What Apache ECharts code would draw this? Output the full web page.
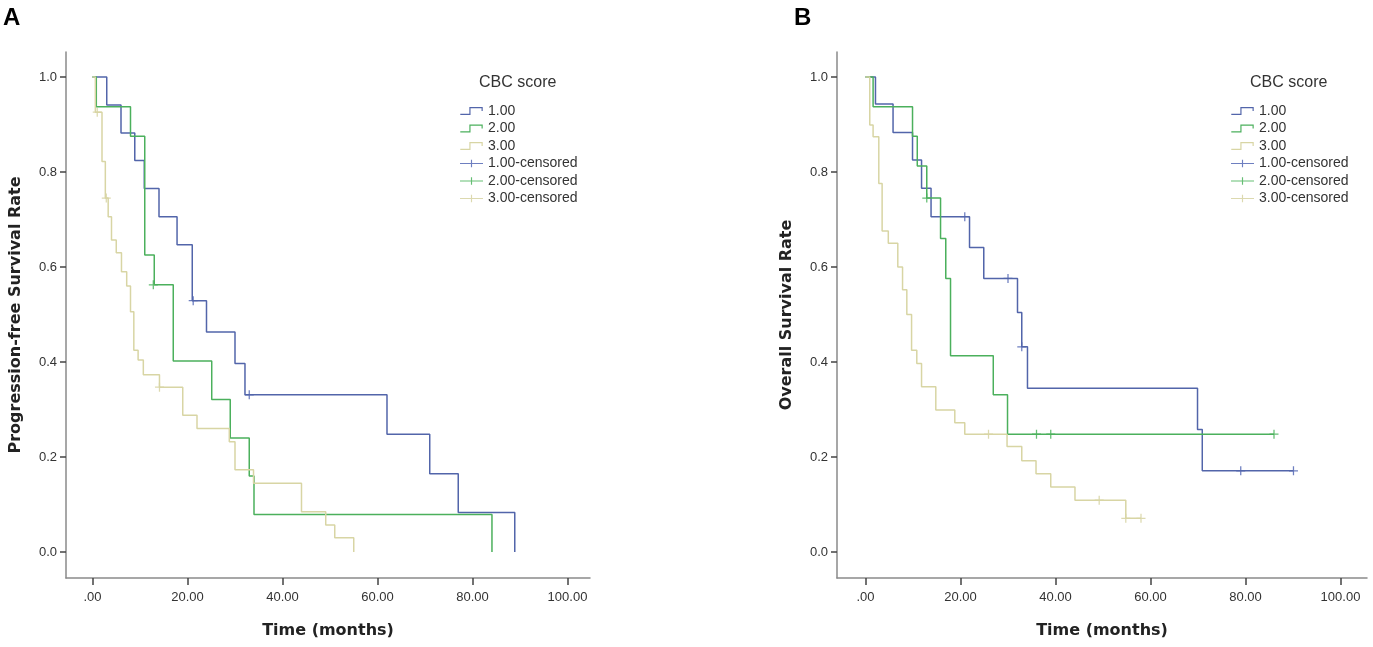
<!DOCTYPE html>
<html>
<head>
    <meta charset="UTF-8">
    <script src="https://cdn.jsdelivr.net/npm/echarts@6/dist/echarts.min.js"></script>
    <title>CBC score survival</title>
</head>
<body style="margin:0;background:#fff;">
<div id="chart" style="width:1373px;height:647px;"></div>
<script>
    // tick positions / labels
    var xTicks = [0, 20, 40, 60, 80, 100];
    var yTicks = [0, 0.2, 0.4, 0.6, 0.8, 1.0];
    var groupNames = ['1.00', '2.00', '3.00'];
    var censorNames = ['1.00-censored', '2.00-censored', '3.00-censored'];

    // A: progression-free survival  [months, rate]
    var pfsBlue = [[0, 1], [3.0, 0.941], [6.0, 0.882], [8.9, 0.824], [10.9, 0.765], [14.0, 0.706], [17.8, 0.647],
        [21.0, 0.529], [24.0, 0.463], [30.0, 0.397], [32.1, 0.331], [62.0, 0.248], [71.0, 0.165], [77.0, 0.083], [88.9, 0]];
    var pfsGreen = [[0, 1], [0.8, 0.9375], [8.0, 0.875], [11.0, 0.625], [13.0, 0.5625], [17.0, 0.402], [25.1, 0.321],
        [29.0, 0.240], [33.0, 0.160], [34.0, 0.079], [84.1, 0]];
    var pfsYellow = [[0, 1], [0.6, 0.926], [2.0, 0.822], [2.7, 0.745], [3.3, 0.706], [4.0, 0.657], [5.0, 0.63],
        [6.1, 0.59], [7.2, 0.56], [8.0, 0.506], [8.7, 0.425], [9.6, 0.404], [10.7, 0.373], [14.1, 0.347], [19.0, 0.288],
        [22.0, 0.26], [28.8, 0.232], [30.0, 0.173], [33.9, 0.145], [44.0, 0.085], [49.1, 0.057], [51.0, 0.03], [55.0, 0]];
    var pfsBlueCens = [[21.2, 0.529], [33.0, 0.331]];
    var pfsGreenCens = [[12.8, 0.5625]];
    var pfsYellowCens = [[1.0, 0.926], [2.9, 0.745], [14.1, 0.347]];

    // B: overall survival
    var osBlue = [[0, 1], [2.1, 0.943], [5.8, 0.883], [9.9, 0.825], [11.8, 0.766], [13.8, 0.706], [21.9, 0.641],
        [24.9, 0.576], [32.0, 0.504], [32.9, 0.432], [34.1, 0.345], [69.9, 0.258], [70.9, 0.171], [90.1, 0.171]];
    var osGreen = [[0, 1], [1.6, 0.9375], [9.9, 0.875], [10.9, 0.8125], [12.9, 0.745], [15.8, 0.66], [16.9, 0.576],
        [17.9, 0.413], [26.9, 0.331], [29.9, 0.248], [86.0, 0.248]];
    var osYellow = [[0, 1], [0.9, 0.899], [1.6, 0.874], [2.8, 0.776], [3.5, 0.676], [4.8, 0.65], [6.8, 0.6],
        [7.8, 0.552], [8.7, 0.5], [9.7, 0.425], [10.8, 0.397], [11.8, 0.348], [14.8, 0.299], [18.8, 0.272],
        [20.9, 0.248], [29.8, 0.222], [32.9, 0.192], [35.9, 0.165], [39.0, 0.137], [44.1, 0.109], [54.8, 0.071], [58.0, 0.071]];
    var osBlueCens = [[20.9, 0.706], [30.0, 0.576], [32.9, 0.432], [79.0, 0.171], [90.1, 0.171]];
    var osGreenCens = [[12.9, 0.745], [36.0, 0.248], [39.0, 0.248], [86.0, 0.248]];
    var osYellowCens = [[25.9, 0.248], [49.2, 0.109], [54.8, 0.071], [58.0, 0.071]];

    var lineColors = ['#5265aa', '#4bb05c', '#d8d5a4'];
    var crossColors = ['#4a5fb0', '#3fae50', '#d3cf9b'];

    var crossPath = 'path://M0,4.3H4.3V0H5.7V4.3H10V5.7H5.7V10H4.3V5.7H0Z';
    var stepIcon = 'path://M0,7H9.3V0H23V4H21.8V1.2H10.5V8.2H0Z';
    var crossIcon = 'path://M0,3.4H11.4V0H12.6V3.4H24V4.6H12.6V8H11.4V4.6H0Z';
    var font = 'Liberation Sans, Arial, sans-serif';

    function xAxis(idx, min, max) {
        return {
            type: 'value', gridIndex: idx, min: min, max: max,
            name: 'Time (months)', nameLocation: 'middle', nameGap: 45,
            nameTextStyle: {fontFamily: 'DejaVu Sans', fontWeight: 'bold', fontSize: 16, color: '#222'},
            axisLine: {onZero: false, lineStyle: {color: '#8a8a8a', width: 1.5}},
            axisTick: {customValues: xTicks, length: 7, lineStyle: {color: '#444', width: 1.5}},
            axisLabel: {
                customValues: xTicks, margin: 13, fontSize: 13, color: '#333', fontFamily: font,
                formatter: function (v) { return v === 0 ? '.00' : v.toFixed(2); }
            },
            splitLine: {show: false}
        };
    }

    function yAxis(idx, title) {
        return {
            type: 'value', gridIndex: idx, min: -0.0547, max: 1.0526,
            name: title, nameLocation: 'middle', nameGap: 42,
            nameTextStyle: {fontFamily: 'DejaVu Sans', fontWeight: 'bold', fontSize: 16, color: '#222'},
            axisLine: {onZero: false, lineStyle: {color: '#8a8a8a', width: 1.5}},
            axisTick: {customValues: yTicks, length: 6, lineStyle: {color: '#444', width: 1.5}},
            axisLabel: {
                customValues: yTicks, margin: 9, fontSize: 13, color: '#333', fontFamily: font,
                formatter: function (v) { return v.toFixed(1); }
            },
            splitLine: {show: false}
        };
    }

    function stepSeries(name, data, color, idx) {
        return {
            name: name, type: 'line', step: 'end', data: data, xAxisIndex: idx, yAxisIndex: idx,
            symbol: 'none', lineStyle: {color: color, width: 1.5}, itemStyle: {color: color}, silent: true
        };
    }

    function censSeries(name, data, color, idx) {
        return {
            name: name, type: 'scatter', data: data, xAxisIndex: idx, yAxisIndex: idx,
            symbol: crossPath, symbolSize: 9, itemStyle: {color: color}, silent: true
        };
    }

    function legend(left) {
        var items = [];
        groupNames.forEach(function (n, i) {
            items.push({name: n, icon: stepIcon, itemStyle: {color: lineColors[i], borderWidth: 0}});
        });
        censorNames.forEach(function (n, i) {
            items.push({name: n, icon: crossIcon, itemStyle: {color: crossColors[i], borderWidth: 0}});
        });
        return {
            orient: 'vertical', left: left, top: 104, padding: 0, itemGap: 3.5,
            itemWidth: 23, itemHeight: 8, selectedMode: false, data: items,
            textStyle: {fontSize: 14, lineHeight: 14, color: '#333', fontFamily: font}
        };
    }

    var series = [
        stepSeries('1.00', pfsBlue, lineColors[0], 0),
        stepSeries('2.00', pfsGreen, lineColors[1], 0),
        stepSeries('3.00', pfsYellow, lineColors[2], 0),
        censSeries('1.00-censored', pfsBlueCens, crossColors[0], 0),
        censSeries('2.00-censored', pfsGreenCens, crossColors[1], 0),
        censSeries('3.00-censored', pfsYellowCens, crossColors[2], 0),
        stepSeries('1.00', osBlue, lineColors[0], 1),
        stepSeries('2.00', osGreen, lineColors[1], 1),
        stepSeries('3.00', osYellow, lineColors[2], 1),
        censSeries('1.00-censored', osBlueCens, crossColors[0], 1),
        censSeries('2.00-censored', osGreenCens, crossColors[1], 1),
        censSeries('3.00-censored', osYellowCens, crossColors[2], 1)
    ];

    var chart = echarts.init(document.getElementById('chart'));
    chart.setOption({
        animation: false,
        backgroundColor: '#fff',
        title: [
            {text: 'A', left: 3, top: 6, padding: 0, textStyle: {fontFamily: font, fontWeight: 'bold', fontSize: 24, color: '#000'}},
            {text: 'B', left: 794, top: 6, padding: 0, textStyle: {fontFamily: font, fontWeight: 'bold', fontSize: 24, color: '#000'}},
            {text: 'CBC score', left: 479, top: 75, padding: 0, textStyle: {fontFamily: font, fontWeight: 'normal', fontSize: 16, color: '#333'}},
            {text: 'CBC score', left: 1250, top: 75, padding: 0, textStyle: {fontFamily: font, fontWeight: 'normal', fontSize: 16, color: '#333'}}
        ],
        legend: [legend(460), legend(1231)],
        grid: [
            {left: 66, top: 52, width: 524, height: 526},
            {left: 837, top: 52, width: 530, height: 526}
        ],
        xAxis: [xAxis(0, -5.58, 104.74), xAxis(1, -6.0, 105.58)],
        yAxis: [yAxis(0, 'Progression-free Survival Rate'), yAxis(1, 'Overall Survival Rate')],
        series: series
    });
</script>
</body>
</html>
